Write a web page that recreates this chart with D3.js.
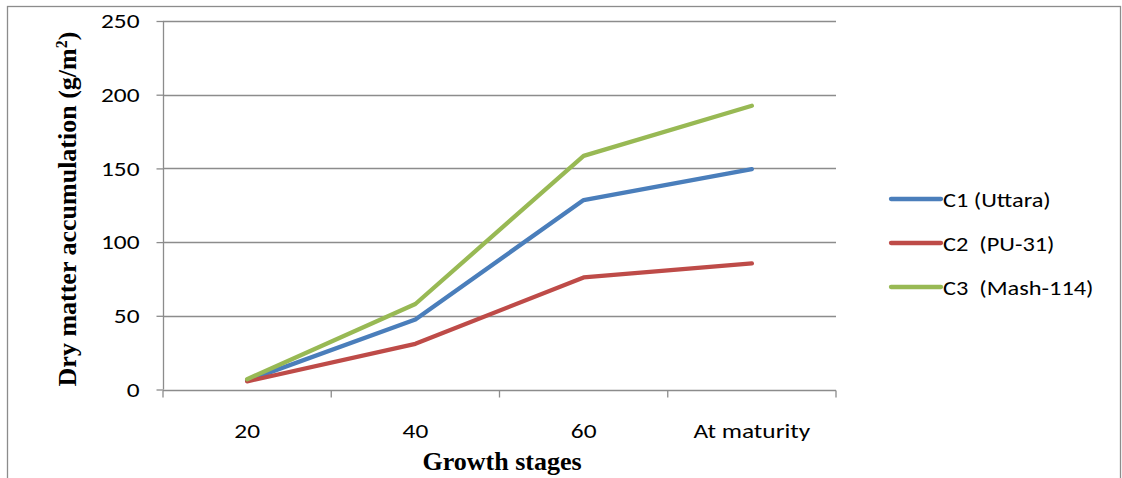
<!DOCTYPE html>
<html>
<head>
<meta charset="utf-8">
<script src="https://cdn.jsdelivr.net/npm/d3@7"></script>
<style>
  html, body { margin: 0; padding: 0; background: #fff; }
  svg { display: block; }
</style>
</head>
<body>
<svg id="chart" width="1122" height="478"></svg>
<script>
// Growth stages (days after sowing) and dry matter for each cultivar
const stages = ["20", "40", "60", "At maturity"];
const seriesNames = ["C1 (Uttara)", "C2  (PU-31)", "C3  (Mash-114)"];
const c1Values = [6, 47.5, 128.5, 149.5];
const c2Values = [5.5, 31, 76, 85.5];
const c3Values = [7, 58, 158.5, 192.5];
const yTicks = [0, 50, 100, 150, 200, 250];
const colors = ["#4a7ebb", "#be4b48", "#98b954"];

const series = [c1Values, c2Values, c3Values].map((v, i) => ({
  name: seriesNames[i], values: v, color: colors[i]
}));

const svg = d3.select("#chart");
const plot = { left: 163, right: 836, top: 21, bottom: 389.5 };
const SANS = "Carlito, Lato, 'Open Sans', sans-serif";
const SERIF = "'Liberation Serif', 'Times New Roman', serif";
const SANS_SIZE = 19.5;
const SANS_WIDE = 1.3;   // the labels are set in a widened sans face
const LEGEND_WIDE = 1.25;
const GRID = "#8c8c8c";

// Outer chart frame
svg.append("rect")
  .attr("x", 7.5).attr("y", 6.5)
  .attr("width", 1113).attr("height", 480)
  .attr("fill", "none").attr("stroke", GRID).attr("stroke-width", 1.3);

const x = d3.scaleBand().domain(stages).range([plot.left, plot.right]).padding(0);
const y = d3.scaleLinear().domain([0, 250]).range([plot.bottom, plot.top]);

// Horizontal gridlines
svg.append("g").selectAll("line").data(yTicks.filter(t => t > 0)).join("line")
  .attr("x1", plot.left).attr("x2", plot.right)
  .attr("y1", d => Math.round(y(d)) + 0.5).attr("y2", d => Math.round(y(d)) + 0.5)
  .attr("stroke", GRID).attr("stroke-width", 1.3);

// Y axis
const yAxis = svg.append("g")
  .attr("transform", `translate(${plot.left + 0.5},0)`)
  .call(d3.axisLeft(y).tickValues(yTicks).tickSize(7).tickFormat(d3.format("d")));
yAxis.select(".domain").attr("stroke", GRID).attr("stroke-width", 1.3)
  .attr("d", `M0,${plot.top}V${plot.bottom}`);
yAxis.selectAll(".tick line").attr("stroke", GRID).attr("stroke-width", 1.3);
yAxis.selectAll(".tick text")
  .attr("x", 0).attr("dy", "0.34em")
  .attr("transform", `translate(-24,0) scale(${SANS_WIDE},1)`)
  .attr("text-anchor", "end")
  .attr("font-family", SANS).attr("font-size", SANS_SIZE).attr("fill", "#000");

// X axis: category boundaries carry the tick marks
const xAxis = svg.append("g").attr("transform", `translate(0,${Math.round(plot.bottom) + 0.5})`);
xAxis.append("line")
  .attr("x1", plot.left).attr("x2", plot.right)
  .attr("stroke", GRID).attr("stroke-width", 1.3);
const bounds = stages.map(s => x(s)).concat([plot.right]);
xAxis.selectAll("line.tk").data(bounds).join("line").attr("class", "tk")
  .attr("x1", d => d).attr("x2", d => d).attr("y1", 0).attr("y2", 7)
  .attr("stroke", GRID).attr("stroke-width", 1.3);
xAxis.selectAll("text").data(stages).join("text")
  .attr("transform", d => `translate(${x(d) + x.bandwidth() / 2},47.5) scale(${SANS_WIDE},1)`)
  .attr("text-anchor", "middle")
  .attr("font-family", SANS).attr("font-size", SANS_SIZE).attr("fill", "#000")
  .text(d => d);

// Series lines
const line = d3.line()
  .x((d, i) => x(stages[i]) + x.bandwidth() / 2)
  .y(d => y(d));
svg.append("g").selectAll("path").data(series).join("path")
  .attr("d", d => line(d.values))
  .attr("fill", "none").attr("stroke", d => d.color)
  .attr("stroke-width", 4.3).attr("stroke-linecap", "round").attr("stroke-linejoin", "round");

// Axis titles
svg.append("text")
  .attr("transform", "translate(76,209) rotate(-90)")
  .attr("text-anchor", "middle")
  .attr("font-family", SERIF)
  .attr("font-weight", "bold").attr("font-size", 26).attr("fill", "#000")
  .html('Dry matter accumulation (g/m<tspan dy="-9" font-size="16">2</tspan><tspan dy="9">)</tspan>');

svg.append("text")
  .attr("x", 502).attr("y", 470)
  .attr("text-anchor", "middle")
  .attr("font-family", SERIF)
  .attr("font-weight", "bold").attr("font-size", 26).attr("fill", "#000")
  .text("Growth stages");

// Legend
const legend = svg.append("g");
const legY = [199, 243, 287];
series.forEach((s, i) => {
  legend.append("line")
    .attr("x1", 891).attr("x2", 941).attr("y1", legY[i]).attr("y2", legY[i])
    .attr("stroke", s.color).attr("stroke-width", 4.3).attr("stroke-linecap", "round");
  legend.append("text")
    .attr("transform", `translate(943,${legY[i] + 8}) scale(${LEGEND_WIDE},1)`)
    .attr("font-family", SANS)
    .attr("font-size", SANS_SIZE).attr("fill", "#000")
    .attr("xml:space", "preserve").style("white-space", "pre")
    .text(s.name);
});
</script>
</body>
</html>
